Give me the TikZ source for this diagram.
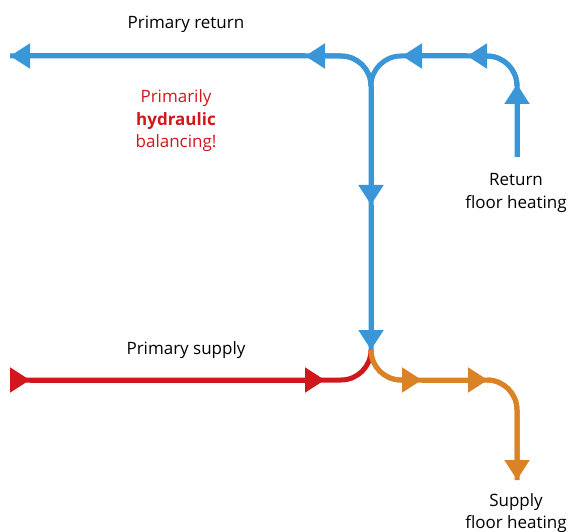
\documentclass[tikz,border=0pt]{standalone}
\usepackage{fontspec}
\setmainfont{Open Sans}
\usetikzlibrary{arrows.meta}

\definecolor{retblue}{RGB}{58,150,214}
\definecolor{supred}{RGB}{208,24,28}
\definecolor{floororange}{RGB}{218,131,38}

\begin{document}
\begin{tikzpicture}
    [x=1pt,y=-1pt,
     pipe/.style={line width=5pt,rounded corners=30pt},
     ret/.style={pipe,draw=retblue},
     sup/.style={pipe,draw=supred},
     flr/.style={pipe,draw=floororange},
     flow/.style={-{Triangle[length=20pt,width=24pt]}},
     lbl/.style={align=center,font=\fontsize{17}{22.5}\selectfont}]

    \useasboundingbox (0,0) rectangle (571,532);

    % return side
    \coordinate (rin) at (517,157);
    \coordinate (rup) at (517,84);
    \coordinate (ra3) at (467,56);
    \coordinate (ra2) at (402,56);
    \coordinate (jcorner) at (371,56);
    \coordinate (jtop) at (371,86);
    \coordinate (ra1) at (305,56);
    \coordinate (rout) at (10,56);
    \coordinate (rdown) at (371,205);
    \coordinate (jbot) at (371,350);

    % pipes first, heads on top
    \draw[ret] (rin) |- (jcorner) -- (jbot);
    \draw[ret] (jtop) |- (rout);

    \draw[ret,flow] (rin) -- (rup);
    \draw[ret,flow] (rup) |- (ra3);
    \draw[ret,flow] (ra3) -- (ra2);
    \draw[ret,flow] (jtop) |- (ra1);
    \draw[ret,flow] (ra1) -- (rout);
    \draw[ret,flow] (jtop) -- (rdown);
    \draw[ret,flow] (rdown) -- (jbot);

    % supply side
    \coordinate (sin) at (10,380);
    \coordinate (sa0) at (30,380);
    \coordinate (sa1) at (325,380);
    \coordinate (fa1) at (422,380);
    \coordinate (fa2) at (488,380);
    \coordinate (fcorner) at (517,380);
    \coordinate (fout) at (517,480);

    \draw[sup] (sin) -| (jbot);
    \draw[flr] (jbot) |- (fcorner) -- (fout);

    \draw[sup,flow] (sin) -- (sa0);
    \draw[sup,flow] (sa0) -- (sa1);
    \draw[flr,flow] (jbot) |- (fa1);
    \draw[flr,flow] (fa1) -- (fa2);
    \draw[flr,flow] (fa2) -| (fout);

    % labels
    \node[lbl] (retlbl) at (186,24) {Primary return};
    \node[lbl,text=supred] (balance) at (176,121) {Primarily\\\textbf{hydraulic}\\balancing!};
    \node[lbl] (floorret) at (516,193) {Return\\floor heating};
    \node[lbl] (suplbl) at (186,350) {Primary supply};
    \node[lbl] (floorsup) at (516,513) {Supply\\floor heating};
\end{tikzpicture}
\end{document}
